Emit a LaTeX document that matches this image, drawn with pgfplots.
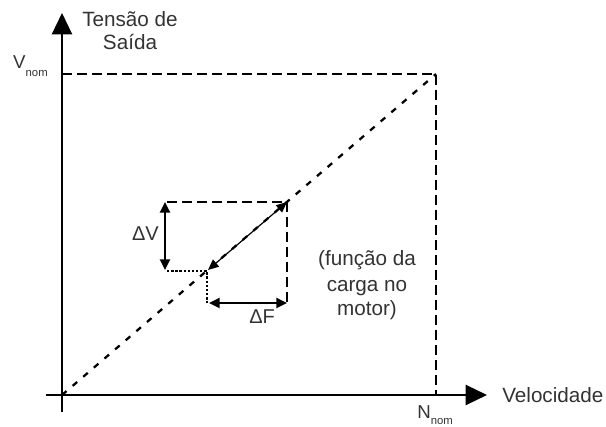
\documentclass[border=0pt]{standalone}
\usepackage{fontspec}
\setmainfont{Liberation Sans}
\usepackage{pgfplots}
\pgfplotsset{compat=1.18}
\usetikzlibrary{arrows.meta}

% one data unit = one pixel of the 606x427 reference
\tikzset{
  txt/.style={text=black!80, inner sep=0pt, font=\fontsize{15.5}{18}\selectfont},
  bigdash/.style={line width=1.9pt, dash pattern=on 7.5pt off 3.75pt},
  diagdash/.style={line width=1.7pt, dash pattern=on 4.5pt off 6pt},
  dots/.style={line width=1.6pt, dash pattern=on 1.8pt off 1.3pt},
  dbl/.style={line width=1.7pt, {Triangle[length=8pt,width=7.5pt]}-{Triangle[length=8pt,width=7.5pt]}},
}

\begin{document}
\begin{tikzpicture}
\begin{axis}[
  x=0.75pt, y=0.75pt,
  xmin=-16, xmax=425,
  ymin=-17, ymax=382,
  axis lines=middle,
  enlargelimits=false,
  xtick=\empty, ytick=\empty,
  axis line style={line width=1.8pt, -{Triangle[length=16pt,width=15pt]}},
  clip=false,
]
% nominal limits
\addplot[bigdash] coordinates {(0,321)(374,321)(374,0)};
% V/f line
\addplot[diagdash] coordinates {(0,0)(374,321)};
% small triangle
\addplot[bigdash] coordinates {(105,193)(225,193)(225,92)};
\addplot[dots] coordinates {(105,124)(145,124)(145,92)};
% arrows
\addplot[dbl] coordinates {(103,125)(103,193)};
\addplot[dbl] coordinates {(147,92)(225,92)};
\addplot[line width=0.9pt, {Triangle[length=8pt,width=7pt]}-{Triangle[length=8pt,width=7pt]}]
  coordinates {(146,125)(225,193)};

% labels
\node[txt, anchor=base] at (axis cs:68,368) {Tensão de};
\node[txt, anchor=base] at (axis cs:68,345) {Saída};
\node[txt, anchor=base west] at (axis cs:440,-8) {Velocidade};
\node[txt, anchor=base east, font=\fontsize{14}{16}\selectfont] at (axis cs:-14,326)
  {V\raisebox{-6pt}{\fontsize{8.5}{9}\selectfont nom}};
\node[txt, anchor=base west, font=\fontsize{14}{16}\selectfont] at (axis cs:355,-24)
  {N\raisebox{-4.5pt}{\fontsize{8.5}{9}\selectfont nom}};
\node[txt, anchor=base east, font=\fontsize{15}{18}\selectfont] at (axis cs:97,154) {ΔV};
\node[txt, anchor=base west, font=\fontsize{15}{18}\selectfont] at (axis cs:187,71) {ΔF};
\node[txt, anchor=base] at (axis cs:305,129) {(função da};
\node[txt, anchor=base] at (axis cs:305,103) {carga no};
\node[txt, anchor=base] at (axis cs:305,79) {motor)};

\coordinate (bl) at (axis cs:-62,-32);
\coordinate (tr) at (axis cs:544,395);
\end{axis}
\pgfresetboundingbox
\path[use as bounding box] (bl) rectangle (tr);
\end{tikzpicture}
\end{document}
